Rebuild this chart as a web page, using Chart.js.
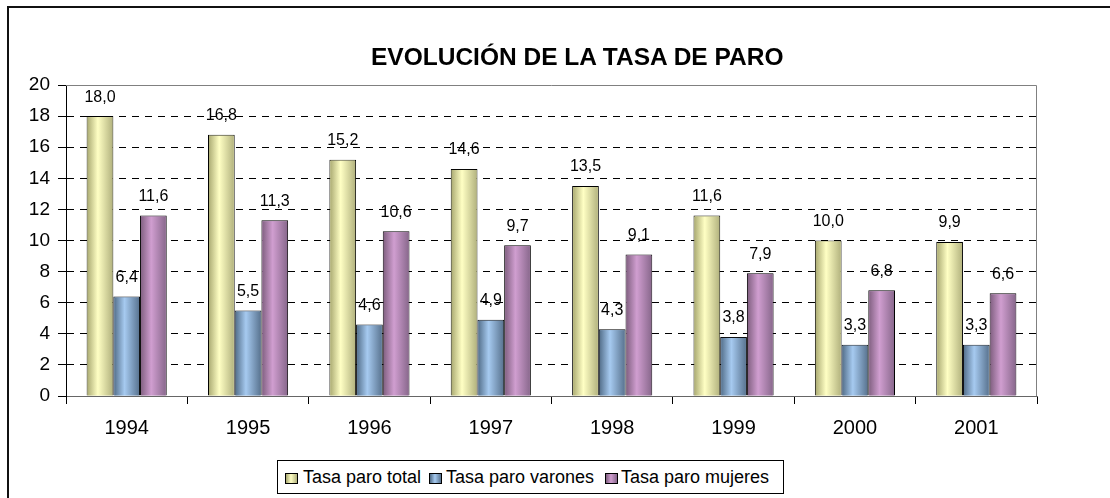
<!DOCTYPE html>
<html lang="es">
<head>
  <meta charset="utf-8">
  <title>Evolución de la tasa de paro</title>
  <script src="https://cdn.jsdelivr.net/npm/chart.js"></script>
  <style>
    body { margin: 0; background: #fff; font-family: "Liberation Sans", Arial, sans-serif; }
    .wrap { position: relative; width: 1110px; height: 498px; overflow: hidden; }
    .frame { position: absolute; left: 7px; top: 6px; width: 1200px; height: 600px;
             border-left: 2px solid #111; border-top: 2px solid #111; }
    .title { position: absolute; left: 371px; width: 400px; top: 42px; text-align: center;
             font-size: 24.5px; font-weight: bold; line-height: 30px; color: #000; white-space: nowrap; }
    .legend { position: absolute; left: 277px; top: 460px; width: 505px; height: 32px;
              border: 1px solid #000; background: #fff; }
    .legend .sq { position: absolute; top: 12px; width: 11px; height: 9px; border: 1px solid #000; }
    .legend .tx { position: absolute; top: 5px; font-size: 18px; line-height: 22px; color: #000; white-space: nowrap; }
    canvas { position: absolute; left: 0; top: 0; }
  </style>
</head>
<body>
  <div class="wrap">
    <div class="frame"></div>
    <canvas id="myChart" width="1110" height="498"></canvas>
    <div class="title">EVOLUCIÓN DE LA TASA DE PARO</div>
    <div class="legend">
      <span class="sq" style="left:7px;background:linear-gradient(90deg,#a6a66e,#ffffc4 45%,#b0b07c)"></span>
      <span class="tx" style="left:25px">Tasa paro total</span>
      <span class="sq" style="left:151px;background:linear-gradient(90deg,#4f6a85,#a6caf0 45%,#56708c)"></span>
      <span class="tx" style="left:168px">Tasa paro varones</span>
      <span class="sq" style="left:327px;background:linear-gradient(90deg,#7d5d7d,#d09ed0 45%,#86668a)"></span>
      <span class="tx" style="left:343px">Tasa paro mujeres</span>
    </div>
  </div>

  <script>
    var years = ['1994', '1995', '1996', '1997', '1998', '1999', '2000', '2001'];
    var total = [18.0, 16.8, 15.2, 14.6, 13.5, 11.6, 10.0, 9.9];
    var varones = [6.4, 5.5, 4.6, 4.9, 4.3, 3.8, 3.3, 3.3];
    var mujeres = [11.6, 11.3, 10.6, 9.7, 9.1, 7.9, 6.8, 6.6];
    var yTicks = [0, 2, 4, 6, 8, 10, 12, 14, 16, 18, 20];

    // dark edge / highlight for the cylinder-like shading
    var shades = [
      ['#a6a66e', '#ffffc4', '#b0b07c'],
      ['#4f6a85', '#a6caf0', '#56708c'],
      ['#7d5d7d', '#d09ed0', '#86668a']
    ];

    var shadePlugin = {
      id: 'shade',
      beforeDatasetsDraw: function (chart) {
        var c = chart.ctx, a = chart.chartArea;
        c.save();
        c.strokeStyle = '#808080';
        c.lineWidth = 1;
        c.beginPath();
        c.moveTo(a.left, a.top + 0.5);
        c.lineTo(a.right - 0.5, a.top + 0.5);
        c.lineTo(a.right - 0.5, a.bottom);
        c.stroke();
        c.restore();
      },
      afterDatasetsDraw: function (chart) {
        var c = chart.ctx;
        c.save();
        chart.data.datasets.forEach(function (ds, di) {
          var meta = chart.getDatasetMeta(di);
          var s = shades[di];
          meta.data.forEach(function (el, i) {
            var p = el.getProps(['x', 'y', 'base', 'width'], true);
            var left = p.x - p.width / 2;
            var g = c.createLinearGradient(left, 0, left + p.width, 0);
            g.addColorStop(0, s[0]);
            g.addColorStop(0.42, s[1]);
            g.addColorStop(1, s[2]);
            c.fillStyle = g;
            c.fillRect(left + 1, p.y + 1, p.width - 2, p.base - p.y - 1);
            // value label
            c.fillStyle = '#000';
            c.font = '16px "Liberation Sans", Arial, sans-serif';
            c.textAlign = 'center';
            c.textBaseline = 'middle';
            c.fillText(ds.data[i].toFixed(1).replace('.', ','), p.x, p.y - 19);
          });
        });
        c.restore();
      }
    };

    var ctx = document.getElementById('myChart').getContext('2d');
    var myChart = new Chart(ctx, {
      type: 'bar',
      data: {
        labels: years,
        datasets: [{
          label: 'Tasa paro total',
          data: total,
          backgroundColor: '#e8e8a8',
          borderColor: '#000',
          borderWidth: 1
        }, {
          label: 'Tasa paro varones',
          data: varones,
          backgroundColor: '#88a8cc',
          borderColor: '#000',
          borderWidth: 1
        }, {
          label: 'Tasa paro mujeres',
          data: mujeres,
          backgroundColor: '#b088b0',
          borderColor: '#000',
          borderWidth: 1
        }]
      },
      options: {
        responsive: false,
        animation: false,
        layout: { padding: { left: 0, right: 73, top: 85, bottom: 0 } },
        datasets: { bar: { categoryPercentage: 0.66, barPercentage: 1.0 } },
        plugins: {
          legend: { display: false },
          tooltip: { enabled: false },
          title: { display: false }
        },
        scales: {
          x: {
            offset: true,
            afterFit: function (s) { s.height = 102; },
            grid: { display: true, offset: true, drawOnChartArea: false, drawTicks: true,
                    tickLength: 8, color: '#000', tickColor: '#000' },
            border: { color: '#666', width: 1 },
            ticks: { color: '#000', padding: 12,
                     font: { family: '"Liberation Sans", Arial, sans-serif', size: 20 } }
          },
          y: {
            min: 0,
            max: 20,
            afterFit: function (s) { s.width = 66; },
            afterBuildTicks: function (s) { s.ticks = yTicks.map(function (v) { return { value: v }; }); },
            grid: {
              color: function (c) { return (c.tick && (c.tick.value === 20 || c.tick.value === 0)) ? 'rgba(0,0,0,0)' : '#000'; },
              tickColor: '#000',
              tickLength: 8,
              drawTicks: true
            },
            border: { color: '#000', width: 1, dash: [7, 6] },
            ticks: { color: '#000', padding: 8,
                     font: { family: '"Liberation Sans", Arial, sans-serif', size: 19 } }
          }
        }
      },
      plugins: [shadePlugin]
    });
  </script>
</body>
</html>
